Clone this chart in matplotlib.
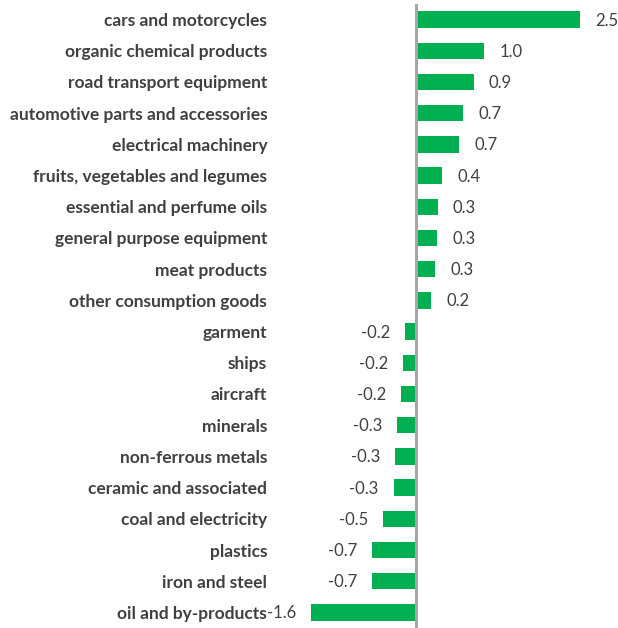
import matplotlib
matplotlib.use('Agg')
from matplotlib import pyplot as plt

# categories top to bottom, values in percentage points
categories = ['cars and motorcycles', 'organic chemical products',
              'road transport equipment', 'automotive parts and accessories',
              'electrical machinery', 'fruits, vegetables and legumes',
              'essential and perfume oils', 'general purpose equipment',
              'meat products', 'other consumption goods', 'garment', 'ships',
              'aircraft', 'minerals', 'non-ferrous metals',
              'ceramic and associated', 'coal and electricity', 'plastics',
              'iron and steel', 'oil and by-products']
values = [2.50, 1.04, 0.88, 0.72, 0.66, 0.40, 0.33, 0.32, 0.29, 0.23,
          -0.17, -0.20, -0.23, -0.29, -0.32, -0.34, -0.50, -0.67, -0.67, -1.60]

green = '#00B050'
text_col = '#404040'

fig = plt.figure(figsize=(6.18, 6.28), dpi=100)
ax = fig.add_axes([270/618, 0, 348/618, 624/628])

n = len(categories)
pos = list(range(n))[::-1]
ax.barh(pos, values, height=0.52, color=green)

for p, v in zip(pos, values):
    if v >= 0:
        ax.annotate('{0:.1f}'.format(v), (v, p), xytext=(15, -1),
                    textcoords='offset pixels', ha='left', va='center',
                    fontsize=12, color=text_col, family='Lato',
                    annotation_clip=False)
    else:
        ax.annotate('{0:.1f}'.format(v), (v, p), xytext=(-15, -1),
                    textcoords='offset pixels', ha='right', va='center',
                    fontsize=12, color=text_col, family='Lato',
                    annotation_clip=False)

ax.axvline(0, color='#A6A6A6', linewidth=2.2)
ax.set_xlim(-2.226, 3.079)
ax.set_ylim(-0.5, n - 0.5)
ax.set_yticks(pos)
ax.set_yticklabels(categories, fontsize=12.5, fontweight='bold',
                   color=text_col, family='Lato')
ax.tick_params(axis='y', length=0, pad=2)
ax.set_xticks([])
for s in ax.spines.values():
    s.set_visible(False)

fig.savefig('out.png', dpi=100)
